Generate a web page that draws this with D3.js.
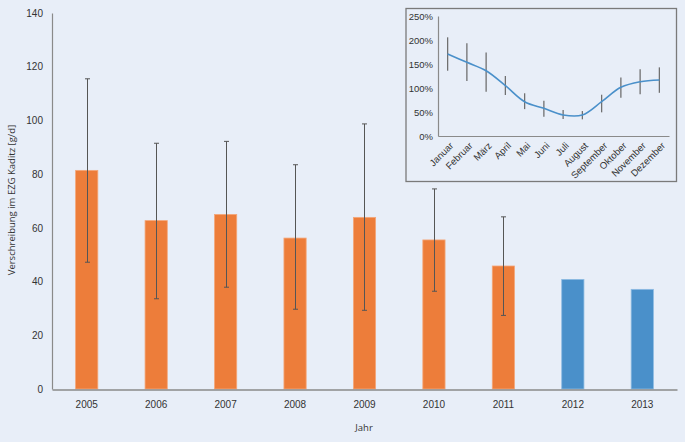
<!DOCTYPE html>
<html><head><meta charset="utf-8">
<script src="https://cdn.jsdelivr.net/npm/d3@7"></script>
<style>
html,body{margin:0;padding:0;background:#e8eef8;}
svg{display:block;font-family:"Open Sans","Noto Sans",sans-serif;}
</style></head><body>
<svg id="c" width="685" height="442"></svg>
<script>
const years = ["2005","2006","2007","2008","2009","2010","2011","2012","2013"];
const values = [81.4, 62.7, 65.0, 56.2, 63.9, 55.5, 45.8, 40.8, 37.1];
const errHigh = [115.5, 91.5, 92.2, 83.5, 98.7, 74.5, 64.1, null, null];
const errLow = [47.2, 33.6, 37.9, 29.7, 29.3, 36.4, 27.4, null, null];
const barGroup = ["past","past","past","past","past","past","past","recent","recent"];
const yTicks = [0, 20, 40, 60, 80, 100, 120, 140];

const months = ["Januar","Februar","März","April","Mai","Juni","Juli","August","September","Oktober","November","Dezember"];
const monthValues = [171, 153.5, 136, 105, 71.5, 57.6, 43.8, 43.8, 71.5, 101.4, 113, 116.7];
const monthHigh = [205.6, 193, 174, 125, 89, 73.6, 54, 52, 86, 122, 139, 143];
const monthLow = [136, 114.6, 92, 85.4, 56, 40, 35.4, 34.7, 49.3, 79.8, 86.8, 90];
const insetTicks = [0, 50, 100, 150, 200, 250];

const svg = d3.select("#c");
const colors = {past:"#ed7d3a", recent:"#4a90ca"};

// main chart
const x = d3.scaleBand().domain(years).range([52, 677]).paddingInner(0.68).paddingOuter(0.34);
const y = d3.scaleLinear().domain([0, 140]).range([389, 13]);

const yAx = svg.append("g").attr("transform","translate(52,0)")
  .call(d3.axisLeft(y).tickValues(yTicks).tickSize(0).tickPadding(9));
yAx.select(".domain").attr("stroke","#8a8a8a").attr("stroke-width",1.2);
yAx.selectAll("text").attr("font-size",10).attr("fill","#333");

svg.append("g").selectAll("rect").data(years).join("rect")
  .attr("x", d => x(d)).attr("width", x.bandwidth())
  .attr("y", (d,i) => y(values[i])).attr("height", (d,i) => y(0) - y(values[i]))
  .attr("fill", (d,i) => colors[barGroup[i]])
  .attr("stroke", (d,i) => barGroup[i]==="past" ? "#f4a77a" : "#8dbbe2").attr("stroke-width",0.8);

const eb = svg.append("g").attr("stroke","#555").attr("stroke-width",1);
years.forEach((d,i) => {
  if (errHigh[i] == null) return;
  const cx = Math.round(x(d) + x.bandwidth()/2) + 0.5;
  eb.append("line").attr("x1",cx).attr("x2",cx).attr("y1",y(errHigh[i])).attr("y2",y(errLow[i]));
  eb.append("line").attr("x1",cx-2.5).attr("x2",cx+2.5).attr("y1",y(errHigh[i])).attr("y2",y(errHigh[i]));
  eb.append("line").attr("x1",cx-2.5).attr("x2",cx+2.5).attr("y1",y(errLow[i])).attr("y2",y(errLow[i]));
});

const xAx = svg.append("g").attr("transform","translate(0,389.5)")
  .call(d3.axisBottom(x).tickSize(0).tickPadding(11));
xAx.select(".domain").attr("stroke","#8a8a8a").attr("stroke-width",1.5);
xAx.selectAll("text").attr("font-size",10).attr("fill","#333");

svg.append("text").attr("x",364).attr("y",431).attr("text-anchor","middle")
  .attr("font-size",9.5).attr("fill","#333").text("Jahr");
svg.append("text").attr("transform","translate(15,200) rotate(-90)").attr("text-anchor","middle")
  .attr("font-size",9.5).attr("fill","#333").text("Verschreibung im EZG Kaditz [g/d]");

// inset
svg.append("rect").attr("x",406).attr("y",8.5).attr("width",270.5).attr("height",173)
  .attr("fill","#e8eef8").attr("stroke","#7a7a7a").attr("stroke-width",1.3);

const ix = d3.scaleBand().domain(months).range([438, 669]);
const iy = d3.scaleLinear().domain([0, 250]).range([136, 16]);

const iyAx = svg.append("g").attr("transform","translate(438,0)")
  .call(d3.axisLeft(iy).tickValues(insetTicks).tickSize(0).tickPadding(5).tickFormat(d => d + "%"));
iyAx.select(".domain").attr("stroke","#8a8a8a").attr("stroke-width",1.2);
iyAx.selectAll("text").attr("font-size",9.5).attr("fill","#333");

const ixAx = svg.append("g").attr("transform","translate(0,136)")
  .call(d3.axisBottom(ix).tickSize(0).tickPadding(0));
ixAx.select(".domain").attr("stroke","#8a8a8a").attr("stroke-width",1.2);
ixAx.selectAll("text").attr("font-size",9.5).attr("fill","#333")
  .attr("text-anchor","end").attr("dy","0.35em")
  .attr("transform","translate(4,8) rotate(-45)");

const ieb = svg.append("g").attr("stroke","#707070").attr("stroke-width",1.3);
months.forEach((m,i) => {
  const cx = ix(m) + ix.bandwidth()/2;
  ieb.append("line").attr("x1",cx).attr("x2",cx).attr("y1",iy(monthHigh[i])).attr("y2",iy(monthLow[i]));
});

const line = d3.line().x((d,i) => ix(months[i]) + ix.bandwidth()/2).y(d => iy(d)).curve(d3.curveCatmullRom.alpha(0.5));
svg.append("path").datum(monthValues).attr("d", line)
  .attr("fill","none").attr("stroke","#4a90ca").attr("stroke-width",1.6);
</script>
</body></html>
